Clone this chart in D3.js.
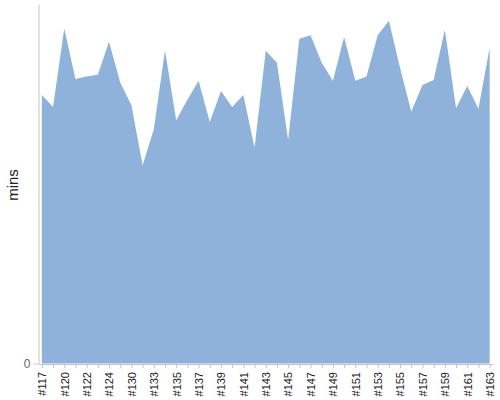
<!DOCTYPE html>
<html>
<head>
<meta charset="utf-8">
<script src="https://cdn.jsdelivr.net/npm/d3@7"></script>
<style>
  body { margin: 0; background: #fff; }
  svg { font-family: "Liberation Sans", Arial, sans-serif; }
</style>
</head>
<body>
<script>
// episode numbers along the bottom (every other one gets a label)
var episodes = ['#117', '#119', '#120', '#121', '#122', '#123', '#124', '#127', '#130', '#132',
    '#133', '#134', '#135', '#136', '#137', '#138', '#139', '#140', '#141', '#142',
    '#143', '#144', '#145', '#146', '#147', '#148', '#149', '#150', '#151', '#152',
    '#153', '#154', '#155', '#156', '#157', '#158', '#159', '#160', '#161', '#162', '#163']

// length of each episode in minutes
var mins = [44.8, 42.8, 55.9, 47.5, 47.9, 48.2, 53.7, 46.9, 43.1, 33.1,
    39.1, 52.3, 40.6, 44.0, 47.2, 40.3, 45.5, 42.8, 44.8, 36.0,
    52.2, 50.2, 37.3, 54.2, 54.8, 50.2, 47.2, 54.5, 47.2, 47.9,
    54.8, 57.2, 49.3, 42.0, 46.5, 47.3, 55.7, 42.6, 46.3, 42.5, 52.7]

var yTicks = [0]
var yMax = 60

// note: "top" is taken by window.top, so use a margin object
var margin = {left: 38.5, right: 493, top: 4, bottom: 363.5}
var width = 500, height = 400

var data = episodes.map(function(e, i) { return {ep: e, v: mins[i]} })

var xScale = d3.scalePoint()
    .domain(episodes)
    .range([margin.left, margin.right])
    .padding(0.3)

var yScale = d3.scaleLinear()
    .domain([0, yMax])
    .range([margin.bottom, margin.top])

var svg = d3.select('body').append('svg')
    .attr('width', width)
    .attr('height', height)

// the area itself
svg.append('path')
    .datum(data)
    .attr('fill', '#8fb2da')
    .attr('d', d3.area()
        .x(function(d) { return xScale(d.ep) })
        .y0(yScale(0))
        .y1(function(d) { return yScale(d.v) }))

// x axis, labels rotated, only every other one shown
var xAxis = svg.append('g')
    .attr('transform', 'translate(0,' + (margin.bottom + 0.5) + ')')
    .call(d3.axisBottom(xScale)
        .tickSize(4)
        .tickSizeOuter(0)
        .tickFormat(function(d, i) { return i % 2 == 0 ? d : '' }))

xAxis.select('.domain').attr('stroke', '#c4c4c4')
xAxis.selectAll('.tick line').attr('stroke', '#c4c4c4')
xAxis.selectAll('.tick text')
    .attr('fill', '#222')
    .attr('font-size', '11px')
    .attr('text-anchor', 'end')
    .attr('transform', 'rotate(-90)')
    .attr('x', -8)
    .attr('y', 0)
    .attr('dy', '0.35em')

// y axis, just the zero
var yAxis = svg.append('g')
    .attr('transform', 'translate(' + margin.left + ',0)')
    .call(d3.axisLeft(yScale)
        .tickValues(yTicks)
        .tickSize(5)
        .tickSizeOuter(0))

yAxis.select('.domain').attr('stroke', '#c4c4c4')
yAxis.selectAll('.tick line').attr('stroke', '#c4c4c4')
yAxis.selectAll('.tick text')
    .attr('fill', '#666')
    .attr('font-size', '12px')
    .attr('x', -8)

svg.append('text')
    .attr('text-anchor', 'middle')
    .attr('transform', 'translate(18,' + 185 + ') rotate(-90)')
    .attr('font-size', '15px')
    .attr('fill', '#222')
    .text('mins')
</script>
</body>
</html>
